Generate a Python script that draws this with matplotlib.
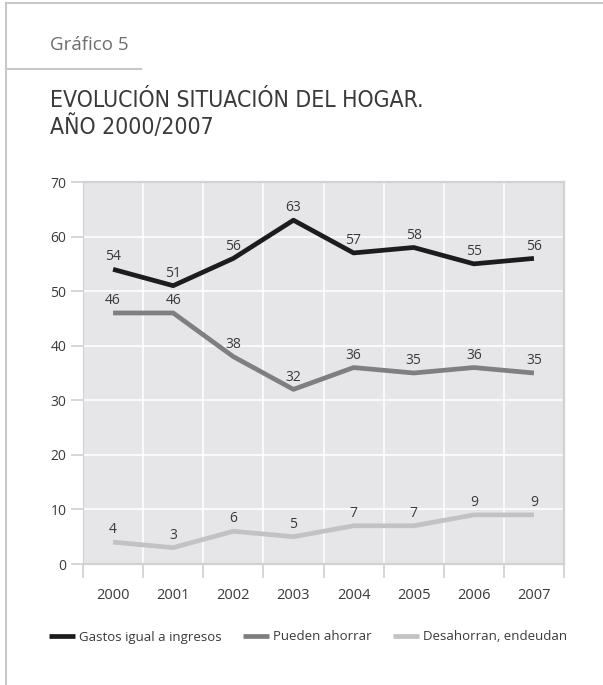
import matplotlib.pyplot as plt
from matplotlib.lines import Line2D

# datos del grafico
anios = ['2000', '2001', '2002', '2003', '2004', '2005', '2006', '2007']
gastos_igual = [54, 51, 56, 63, 57, 58, 55, 56]
pueden_ahorrar = [46, 46, 38, 32, 36, 35, 36, 35]
desahorran = [4, 3, 6, 5, 7, 7, 9, 9]
series_nombres = ['Gastos igual a ingresos', 'Pueden ahorrar', 'Desahorran, endeudan']
y_ticks = [0, 10, 20, 30, 40, 50, 60, 70]

colores = ['#1c1c1c', '#7f7f7f', '#c2c2c4']
fuente = ['Open Sans', 'DejaVu Sans']

W, H = 603, 685
fig = plt.figure(figsize=(W / 100, H / 100), dpi=100)
ax = fig.add_axes([83 / W, 1 - 564 / H, (564 - 83) / W, (564 - 182) / H])

ax.set_facecolor('#e6e6e8')
x = list(range(len(anios)))
for valores, color, nombre in zip([gastos_igual, pueden_ahorrar, desahorran], colores, series_nombres):
    ax.plot(x, valores, color=color, lw=3.4, label=nombre, solid_capstyle='butt', zorder=3)
    for i, v in enumerate(valores):
        ax.annotate(str(v), (i, v), xytext=(0, 3.5), textcoords='offset points',
                    ha='center', va='bottom', fontsize=10, color='#3a3a3a', family=fuente)

ax.set_xlim(-0.5, len(anios) - 0.5)
ax.set_ylim(0, 70)
ax.set_yticks(y_ticks)
ax.set_yticklabels([str(t) for t in y_ticks], family=fuente, fontsize=10, color='#3a3a3a')
ax.set_xticks([i - 0.5 for i in range(len(anios) + 1)])
ax.set_xticklabels([])
ax.set_xticks(x, minor=True)
ax.set_xticklabels(anios, minor=True, family=fuente, fontsize=10.5, color='#3a3a3a')
ax.tick_params(axis='x', which='major', length=10, width=1.2, color='#cfcfcf', direction='out')
ax.tick_params(axis='x', which='minor', length=0, pad=17)
ax.tick_params(axis='y', length=9, width=1.2, color='#cfcfcf', pad=3)

ax.grid(True, which='major', color='white', lw=1.1, zorder=1)
ax.set_axisbelow(True)
for lado in ['top', 'right', 'bottom', 'left']:
    ax.spines[lado].set_color('#d2d2d2')
    ax.spines[lado].set_linewidth(1.6)
ax.spines['left'].set_linewidth(0.8)

# textos de cabecera
fig.text(50 / W, 1 - 50 / H, 'Gráfico 5', family=fuente, fontsize=13.5, color='#6e6e6e', va='baseline')
fig.text(50 / W, 1 - 107 / H, 'EVOLUCIÓN SITUACIÓN DEL HOGAR.', family='DejaVu Sans', stretch='condensed',
         fontsize=16.5, color='#3a3a3a', va='baseline')
fig.text(50 / W, 1 - 134 / H, 'AÑO 2000/2007', family='DejaVu Sans', stretch='condensed',
         fontsize=16.5, color='#3a3a3a', va='baseline')

# marco de la pagina
borde = '#c8c8c8'
fig.add_artist(Line2D([6 / W, 1], [1 - 3 / H, 1 - 3 / H], color=borde, lw=1.5))
fig.add_artist(Line2D([6 / W, 6 / W], [0, 1 - 3 / H], color=borde, lw=1.5))
fig.add_artist(Line2D([6 / W, 141 / W], [1 - 69 / H, 1 - 69 / H], color=borde, lw=1.5))

leg = fig.legend(loc='center left', bbox_to_anchor=(37 / W, 1 - 637 / H), ncol=3, frameon=False,
                 handlelength=2.0, handletextpad=0.3, columnspacing=1.6,
                 prop={'family': fuente, 'size': 9.5})
for t in leg.get_texts():
    t.set_color('#3a3a3a')

fig.savefig('out.png', dpi=100)
